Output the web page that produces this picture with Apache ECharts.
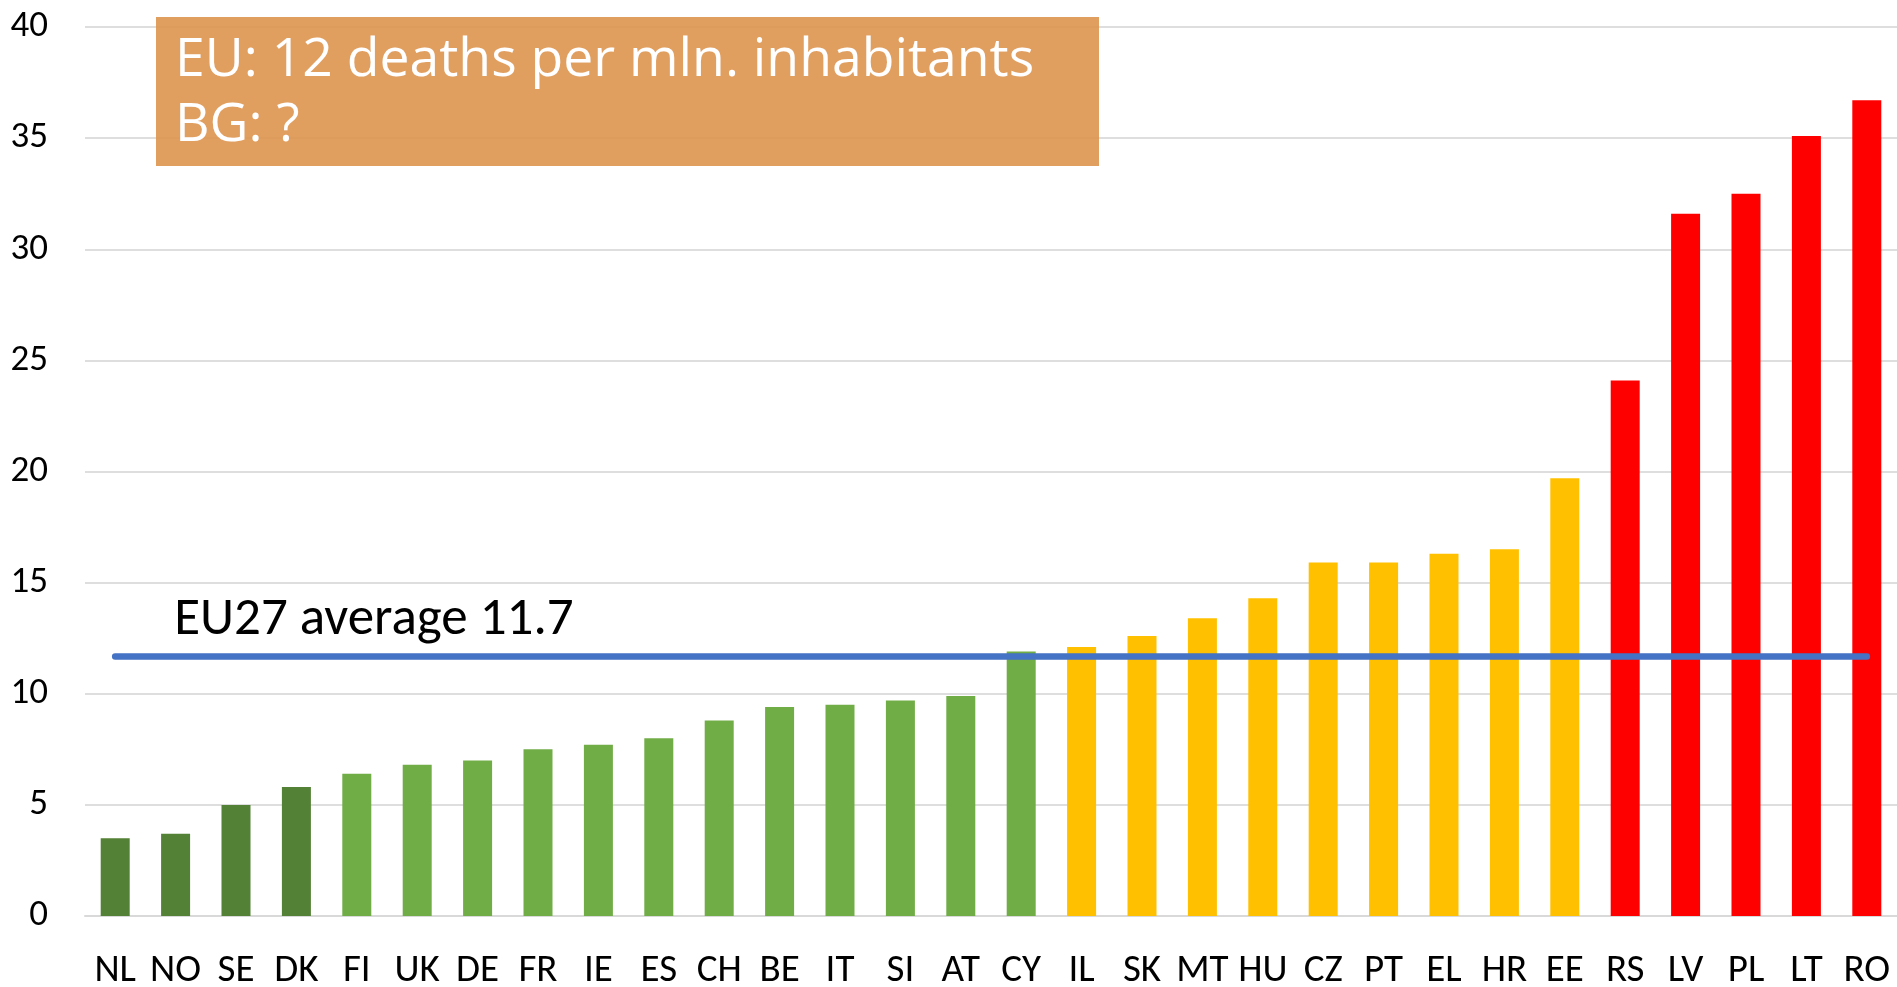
<!DOCTYPE html>
<html><head><meta charset="utf-8">
<script src="https://cdn.jsdelivr.net/npm/echarts@6/dist/echarts.min.js"></script>
<style>html,body{margin:0;padding:0;background:#fff}#c{width:1897px;height:987px}</style>
</head><body><div id="c"></div>
<script>
// ---- data ----
const categories = ['NL','NO','SE','DK','FI','UK','DE','FR','IE','ES','CH','BE','IT','SI','AT','CY','IL','SK','MT','HU','CZ','PT','EL','HR','EE','RS','LV','PL','LT','RO'];
const deaths = [3.5,3.7,5.0,5.8,6.4,6.8,7.0,7.5,7.7,8.0,8.8,9.4,9.5,9.7,9.9,11.9,12.1,12.6,13.4,14.3,15.9,15.9,16.3,16.5,19.7,24.1,31.6,32.5,35.1,36.7];
// tier of each country (0 = lowest, 3 = highest)
const tiers = [0,0,0,0,1,1,1,1,1,1,1,1,1,1,1,1,2,2,2,2,2,2,2,2,2,3,3,3,3,3];
const yTicks = [0,5,10,15,20,25,30,35,40];
const eu27Average = 11.7;
const averageLabel = 'EU27 average 11.7';
const boxLines = ['EU: 12 deaths per mln. inhabitants', 'BG: ?'];

// ---- styles ----
const tierColors = ['#538135','#70AD47','#FFC000','#FF0000'];

const chart = echarts.init(document.getElementById('c'));
chart.setOption({
  animation: false,
  backgroundColor: '#ffffff',
  grid: {left: 85, right: 0, top: 27, bottom: 71, containLabel: false, outerBoundsMode: 'none'},
  xAxis: {
    type: 'category',
    data: categories,
    axisLine: {show: true, lineStyle: {color: '#d9d9d9', width: 2}},
    axisTick: {show: false},
    axisLabel: {interval: 0, margin: 36, color: '#000', fontFamily: 'Carlito', fontSize: 39}
  },
  yAxis: {
    type: 'value',
    min: yTicks[0],
    max: yTicks[yTicks.length - 1],
    interval: yTicks[1] - yTicks[0],
    axisLine: {show: false},
    axisTick: {show: false},
    splitLine: {lineStyle: {color: '#dedede', width: 2}},
    axisLabel: {margin: 37, color: '#000', fontFamily: 'Carlito', fontSize: 37}
  },
  series: [{
    type: 'bar',
    barWidth: 29,
    data: deaths.map((v, i) => ({value: v, itemStyle: {color: tierColors[tiers[i]]}})),
    markLine: {
      silent: true,
      symbol: ['none', 'none'],
      z: 10,
      lineStyle: {color: '#4472C4', width: 6.5, type: 'solid', cap: 'round'},
      label: {
        show: true,
        position: 'insideStartTop',
        distance: [59, 9],
        formatter: averageLabel,
        color: '#000',
        fontFamily: 'Carlito',
        fontSize: 53
      },
      data: [[
        {coord: [categories[0], eu27Average]},
        {coord: [categories[categories.length - 1], eu27Average]}
      ]]
    }
  }],
  graphic: [{
    type: 'rect',
    z: 100,
    zlevel: 1,
    shape: {x: 156, y: 17, width: 943, height: 149},
    style: {fill: 'rgb(221,147,78)', opacity: 0.9}
  }, {
    type: 'text',
    z: 101,
    zlevel: 1,
    x: 175,
    y: 28,
    style: {
      text: boxLines.join('\n'),
      fill: '#ffffff',
      font: '53.5px "Open Sans"',
      lineHeight: 65
    }
  }]
});
</script></body></html>
